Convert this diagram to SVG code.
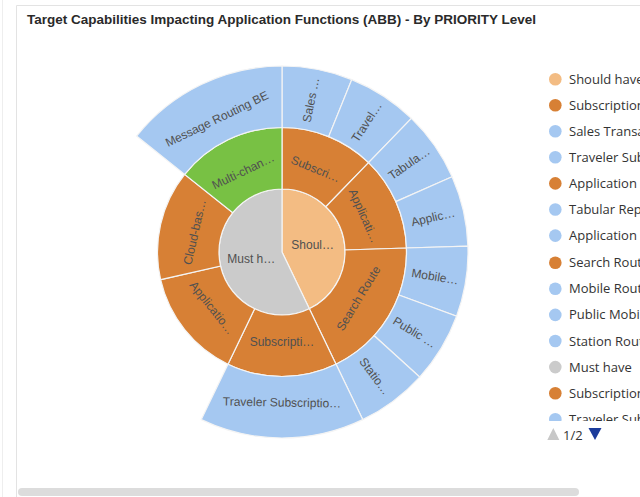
<svg xmlns="http://www.w3.org/2000/svg" width="640" height="497" viewBox="0 0 640 497">
<style>
.t{font-family:"Liberation Sans",Arial,sans-serif;font-size:12px;fill:#505050;text-anchor:middle;dominant-baseline:central}
.sec{stroke:#f4f4f4;stroke-width:1.2}
.blue{fill:#a5c8f1}.orange{fill:#d78035}.peach{fill:#f3bc83}.grey{fill:#cbcbcb}.green{fill:#78c144}
.lg{font-family:"Open Sans","Noto Sans",sans-serif;font-size:13px;fill:#333}
</style>
<defs>
<clipPath id="lgclip"><rect x="540" y="60" width="100" height="361"/></clipPath>
</defs>
<rect width="640" height="497" fill="#fff"/>
<line x1="2.5" y1="0" x2="2.5" y2="497" stroke="#eeeeee"/>
<path d="M16.5,497 L16.5,5.5 L640,5.5" fill="none" stroke="#e3e3e3"/>
<text x="27" y="24" font-family="Liberation Sans,Arial,sans-serif" font-size="13.5" font-weight="bold" fill="#2a2a2a">Target Capabilities Impacting Application Functions (ABB) - By PRIORITY Level</text>

<g id="root-should"><path class="sec peach" d="M282,252 L282,189 A63,63 0 0,1 309.34,308.76 Z"/><text class="t" x="312.7" y="245">Shoul…</text></g>
<g id="root-must"><path class="sec grey" d="M282,252 L309.34,308.76 A63,63 0 1,1 282,189 Z"/><text class="t" x="251.3" y="259">Must h…</text></g>

<g id="mid-subscri"><path class="sec orange" d="M282,127.5 A124.5,124.5 0 0,1 368.61,162.57 L325.83,206.75 A63,63 0 0,0 282,189 Z"/><text class="t" transform="translate(315.6,169) rotate(22.04)">Subscri…</text></g>
<g id="mid-applicati"><path class="sec orange" d="M368.61,162.57 A124.5,124.5 0 0,1 406.44,248 L344.97,249.98 A63,63 0 0,0 325.83,206.75 Z"/><text class="t" transform="translate(363.8,215.8) rotate(66.12)">Applicati…</text></g>
<g id="mid-search"><path class="sec orange" d="M406.44,248 A124.5,124.5 0 0,1 336.02,364.17 L309.34,308.76 A63,63 0 0,0 344.97,249.98 Z"/><text class="t" transform="translate(358.5,298.4) rotate(-58.78)">Search Route</text></g>
<g id="mid-subscripti"><path class="sec orange" d="M336.02,364.17 A124.5,124.5 0 0,1 227.98,364.17 L254.66,308.76 A63,63 0 0,0 309.34,308.76 Z"/><text class="t" transform="translate(282,341.5)">Subscripti…</text></g>
<g id="mid-applicatio"><path class="sec orange" d="M227.98,364.17 A124.5,124.5 0 0,1 160.62,279.7 L220.58,266.02 A63,63 0 0,0 254.66,308.76 Z"/><text class="t" transform="translate(212,307.8) rotate(51.43)">Applicatio…</text></g>
<g id="mid-cloud"><path class="sec orange" d="M160.62,279.7 A124.5,124.5 0 0,1 184.67,174.37 L232.75,212.72 A63,63 0 0,0 220.58,266.02 Z"/><text class="t" transform="translate(194.7,232.1) rotate(-77.14)">Cloud-bas…</text></g>
<g id="mid-multi"><path class="sec green" d="M184.67,174.37 A124.5,124.5 0 0,1 282,127.5 L282,189 A63,63 0 0,0 232.75,212.72 Z"/><text class="t" transform="translate(243.2,171.4) rotate(-25.71)">Multi-chan…</text></g>

<g id="out-sales"><path class="sec blue" d="M282,66 A186,186 0 0,1 351.79,79.6 L328.71,136.6 A124.5,124.5 0 0,0 282,127.5 Z"/><text class="t" transform="translate(311,99.9) rotate(-78.98)">Sales …</text></g>
<g id="out-travel"><path class="sec blue" d="M351.79,79.6 A186,186 0 0,1 411.4,118.4 L368.61,162.57 A124.5,124.5 0 0,0 328.71,136.6 Z"/><text class="t" transform="translate(366.6,122.1) rotate(-56.94)">Travel…</text></g>
<g id="out-tabula"><path class="sec blue" d="M411.4,118.4 A186,186 0 0,1 452.08,176.71 L395.84,201.6 A124.5,124.5 0 0,0 368.61,162.57 Z"/><text class="t" transform="translate(409.1,163.3) rotate(-34.9)">Tabula…</text></g>
<g id="out-applic"><path class="sec blue" d="M452.08,176.71 A186,186 0 0,1 467.91,246.03 L406.44,248 A124.5,124.5 0 0,0 395.84,201.6 Z"/><text class="t" transform="translate(433.1,217.5) rotate(-12.86)">Applic…</text></g>
<g id="out-mobile"><path class="sec blue" d="M467.91,246.03 A186,186 0 0,1 456.56,316.23 L398.84,294.99 A124.5,124.5 0 0,0 406.44,248 Z"/><text class="t" transform="translate(435,276.7) rotate(9.18)">Mobile…</text></g>
<g id="out-public"><path class="sec blue" d="M456.56,316.23 A186,186 0 0,1 419.7,377.03 L374.17,335.69 A124.5,124.5 0 0,0 398.84,294.99 Z"/><text class="t" transform="translate(414.5,332.3) rotate(31.22)">Public …</text></g>
<g id="out-statio"><path class="sec blue" d="M419.7,377.03 A186,186 0 0,1 362.71,419.59 L336.02,364.17 A124.5,124.5 0 0,0 374.17,335.69 Z"/><text class="t" transform="translate(374.7,376.2) rotate(53.27)">Statio…</text></g>
<g id="out-traveler"><path class="sec blue" d="M362.71,419.59 A186,186 0 0,1 201.29,419.59 L227.98,364.17 A124.5,124.5 0 0,0 336.02,364.17 Z"/><text class="t" transform="translate(282,402.5) rotate(1)">Traveler Subscriptio…</text></g>
<g id="out-message"><path class="sec blue" d="M136.59,136.03 A186,186 0 0,1 282,66 L282,127.5 A124.5,124.5 0 0,0 184.67,174.37 Z"/><text class="t" transform="translate(217,119) rotate(-25.71)">Message Routing BE</text></g>

<g id="legend" clip-path="url(#lgclip)">
<circle cx="555.3" cy="79.2" r="6.3" class="peach"/><text class="lg" x="569" y="83.7">Should have</text>
<circle cx="555.3" cy="105.3" r="6.3" class="orange"/><text class="lg" x="569" y="109.8">Subscription</text>
<circle cx="555.3" cy="131.3" r="6.3" class="blue"/><text class="lg" x="569" y="135.8">Sales Transa</text>
<circle cx="555.3" cy="157.3" r="6.3" class="blue"/><text class="lg" x="569" y="161.8">Traveler Sub</text>
<circle cx="555.3" cy="183.4" r="6.3" class="orange"/><text class="lg" x="569" y="187.9">Application</text>
<circle cx="555.3" cy="209.5" r="6.3" class="blue"/><text class="lg" x="569" y="214">Tabular Rep</text>
<circle cx="555.3" cy="235.6" r="6.3" class="blue"/><text class="lg" x="569" y="240.1">Application</text>
<circle cx="555.3" cy="262.7" r="6.3" class="orange"/><text class="lg" x="569" y="267.2">Search Rout</text>
<circle cx="555.3" cy="288.8" r="6.3" class="blue"/><text class="lg" x="569" y="293.3">Mobile Rout</text>
<circle cx="555.3" cy="314.9" r="6.3" class="blue"/><text class="lg" x="569" y="319.4">Public Mobi</text>
<circle cx="555.3" cy="341" r="6.3" class="blue"/><text class="lg" x="569" y="345.5">Station Rout</text>
<circle cx="555.3" cy="367.1" r="6.3" class="grey"/><text class="lg" x="569" y="371.6">Must have</text>
<circle cx="555.3" cy="393.2" r="6.3" class="orange"/><text class="lg" x="569" y="397.7">Subscription</text>
<circle cx="555.3" cy="419.3" r="6.3" class="blue"/><text class="lg" x="569" y="423.8">Traveler Sub</text>
</g>
<g id="legend-nav">
<path d="M547.3,440 L553.3,428 L559.3,440 Z" fill="#c8c8c8"/>
<text x="563" y="439.5" font-family="Open Sans,Noto Sans,sans-serif" font-size="13" fill="#333">1/2</text>
<path d="M588.5,428 L601.5,428 L595,440 Z" fill="#1b3b9b"/>
</g>
<rect x="18" y="488" width="561" height="8" rx="4" fill="#dcdcdc"/>
</svg>
